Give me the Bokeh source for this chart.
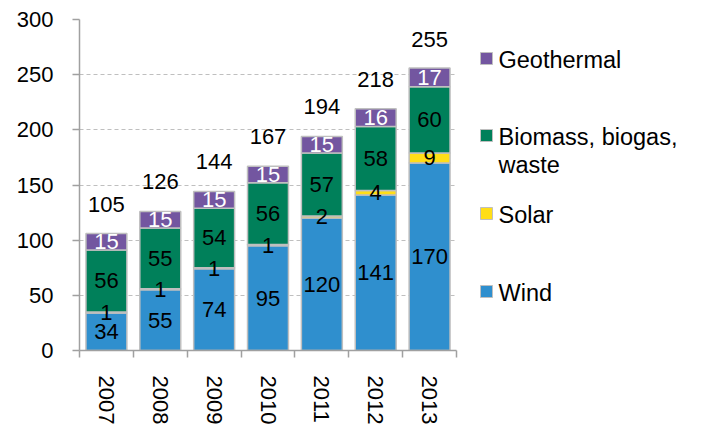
from bokeh.plotting import figure
from bokeh.models import Range1d, FixedTicker, ColumnDataSource
from bokeh.layouts import row
from bokeh.embed import file_html
from bokeh.resources import INLINE
from bokeh.core.properties import value

# ---- data ----
years = ["2007", "2008", "2009", "2010", "2011", "2012", "2013"]
wind = [34, 55, 74, 95, 120, 141, 170]
solar = [1, 1, 1, 1, 2, 4, 9]
biomass = [56, 55, 54, 56, 57, 58, 60]
geothermal = [15, 15, 15, 15, 15, 16, 17]
totals = [105, 126, 144, 167, 194, 218, 255]
y_ticks = [0, 50, 100, 150, 200, 250, 300]

series_names = ["Wind", "Solar", "Biomass, biogas,\nwaste", "Geothermal"]
series_values = [wind, solar, biomass, geothermal]
series_colors = ["#2F8FCE", "#FFDE17", "#00805A", "#7356A0"]
label_colors = ["black", "black", "black", "white"]

FONT = "Liberation Sans"
FS = "22px"

n = len(years)
xs = [i + 0.5 for i in range(n)]

H = 427
TOP, FRAME_H = 19, 331
p = figure(width=460, height=H, x_range=Range1d(0, n), y_range=Range1d(0, 300),
           toolbar_location=None, output_backend="svg",
           min_border_left=79, min_border_top=TOP, min_border_right=4,
           min_border_bottom=H - TOP - FRAME_H)
p.outline_line_color = None
p.background_fill_color = "white"
p.border_fill_color = "white"

bottom = [0] * n
label_sources = []
for vals, color, lc in zip(series_values, series_colors, label_colors):
    top = [b + v for b, v in zip(bottom, vals)]
    src = ColumnDataSource(dict(x=xs, bottom=bottom, top=top,
                                mid=[(b + t) / 2 for b, t in zip(bottom, top)],
                                label=[str(v) for v in vals]))
    p.vbar(x="x", width=0.76, bottom="bottom", top="top", source=src,
           fill_color=color, line_color="#BFBFBF", line_width=1.5)
    label_sources.append((src, lc))
    bottom = top

for src, lc in label_sources:
    p.text(x="x", y="mid", text="label", source=src, text_align="center",
           text_baseline="middle", text_color=lc, text_font=value(FONT),
           text_font_size=FS)

tot_src = ColumnDataSource(dict(x=xs, y=totals, label=[str(t) for t in totals]))
p.text(x="x", y="y", text="label", source=tot_src, text_align="center",
       text_baseline="middle", y_offset=-30, text_color="black",
       text_font=value(FONT), text_font_size=FS)

# grid
p.xgrid.grid_line_color = None
p.ygrid.grid_line_color = "#BFBFBF"
p.ygrid.grid_line_dash = "4 3"
p.ygrid.grid_line_width = 1

# y axis
p.yaxis.ticker = FixedTicker(ticks=y_ticks)
p.yaxis.axis_line_color = "#A0A0A0"
p.yaxis.axis_line_width = 1.5
p.yaxis.major_tick_line_color = "#A0A0A0"
p.yaxis.major_tick_line_width = 1.5
p.yaxis.major_tick_out = 7
p.yaxis.major_tick_in = 0
p.yaxis.minor_tick_line_color = None
p.yaxis.major_label_standoff = 19
p.yaxis.major_label_text_font = FONT
p.yaxis.major_label_text_font_size = FS
p.yaxis.major_label_text_color = "black"

# x axis: labels at centres, ticks at category boundaries
p.xaxis.ticker = FixedTicker(ticks=xs, minor_ticks=list(range(n + 1)))
p.xaxis.major_label_overrides = {x: y for x, y in zip(xs, years)}
p.xaxis.major_label_orientation = "vertical"
p.xaxis.axis_line_color = "#A0A0A0"
p.xaxis.axis_line_width = 1.5
p.xaxis.major_tick_line_color = None
p.xaxis.major_tick_out = 7
p.xaxis.major_tick_in = 0
p.xaxis.minor_tick_line_color = "#A0A0A0"
p.xaxis.minor_tick_line_width = 1.5
p.xaxis.minor_tick_out = 7
p.xaxis.minor_tick_in = 0
p.xaxis.major_label_standoff = 18
p.xaxis.major_label_text_font = FONT
p.xaxis.major_label_text_font_size = FS
p.xaxis.major_label_text_color = "black"

# ---- legend as a separate panel (its frame is aligned with the main frame;
#      coordinates are page pixels, y downward) ----
LW = 251
lg = figure(width=LW, height=H, x_range=Range1d(0, LW),
            y_range=Range1d(TOP + FRAME_H, TOP),
            toolbar_location=None, output_backend="svg", min_border=0)
lg.axis.visible = False
lg.grid.grid_line_color = None
lg.outline_line_color = None
lg.background_fill_color = "white"
lg.border_fill_color = "white"

order = [3, 2, 1, 0]  # Geothermal, Biomass, Solar, Wind (top to bottom)
row_y = [58, 135, 213, 291]
leg_src = ColumnDataSource(dict(
    x=[26] * len(order), tx=[38] * len(order), y=row_y,
    color=[series_colors[i] for i in order],
    label=[series_names[i] for i in order]))
lg.scatter(x="x", y="y", marker="square", size=12, fill_color="color",
           line_color="#BFBFBF", line_width=1, source=leg_src)
lg.text(x="tx", y="y", text="label", source=leg_src, text_align="left",
        text_baseline="top", y_offset=-12, text_line_height=1.08,
        text_font=value(FONT), text_font_size="23.5px", text_color="black")

layout = row(p, lg, spacing=0)
open("out.html", "w").write(file_html(layout, INLINE))
